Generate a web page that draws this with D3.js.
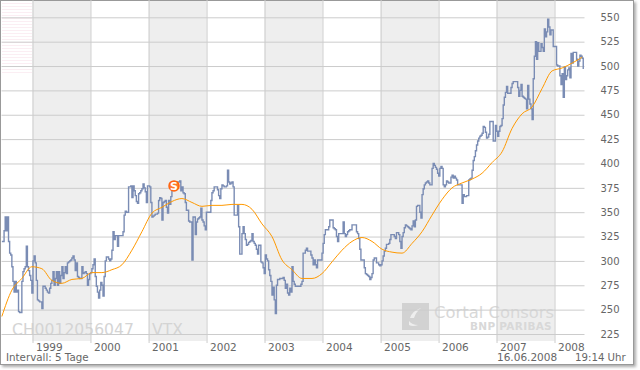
<!DOCTYPE html>
<html>
<head>
<meta charset="utf-8">
<script src="https://cdn.jsdelivr.net/npm/d3@7"></script>
<style>
html, body { margin: 0; padding: 0; background: #fff; overflow: hidden; }
text { font-family: "DejaVu Sans", sans-serif; }
</style>
</head>
<body>
<svg id="chart" width="640" height="370"></svg>
<script>
// weekly closes, first one in the week of 22.06.1998
var firstWeek = new Date(1998, 5, 22);
var price = [
  320,320,331,345,331,345,320,308,306,
  294,279,268,279,268,270,248,247,247,
  279,289,292,294,315,294,290,285,280,
  267,300,305,298,280,260,259,258,258,
  251,274,274,272,270,268,267,272,277,
  280,289,275,282,289,275,289,277,285,
  294,282,288,294,287,298,299,300,301,
  303,305,301,290,298,284,283,282,282,
  294,287,288,289,287,275,281,287,288,
  292,296,302,284,274,268,262,270,278,
  275,264,284,300,304,304,302,300,302,
  311,330,322,326,326,315,326,326,326,
  326,330,347,351,350,350,376,376,377,
  365,377,372,367,361,359,369,370,372,
  374,379,375,371,360,377,377,376,360,
  345,346,347,348,348,349,362,365,364,
  342,360,361,362,355,349,362,358,366,
  374,377,378,380,381,381,381,382,372,
  376,370,369,360,352,352,341,340,340,
  301,345,345,327,340,343,344,345,354,
  342,340,336,332,350,350,350,350,362,
  370,372,376,376,376,373,367,364,374,
  378,377,376,376,377,393,381,379,380,
  381,376,347,347,347,357,335,307,307,
  328,335,328,322,316,317,319,320,321,
  328,320,318,316,312,307,316,316,299,
  298,293,287,306,302,300,291,285,279,
  265,273,260,246,275,281,281,282,282,
  282,283,280,272,276,267,265,272,268,
  294,279,276,274,274,274,274,274,276,
  279,308,308,311,313,310,310,310,306,
  303,296,301,296,293,301,301,301,301,
  308,318,327,332,332,332,335,342,342,
  342,334,333,332,325,320,328,328,328,
  328,340,328,325,327,330,331,332,332,
  337,337,337,337,330,328,323,312,301,
  301,301,293,287,286,285,284,281,283,
  287,301,303,303,298,298,296,295,296,
  300,305,310,313,317,317,318,322,327,
  327,327,325,323,329,329,327,320,313,
  325,329,334,337,336,335,334,333,332,
  336,341,335,342,356,357,357,350,344,
  368,374,378,380,381,382,380,378,378,
  395,400,398,396,394,390,387,395,397,
  395,378,376,378,382,381,380,380,386,
  388,385,387,385,383,378,378,378,378,
  359,368,366,366,367,367,383,384,385,
  393,403,407,413,419,423,426,428,429,
  431,438,437,432,426,427,430,443,443,
  443,423,423,439,433,428,433,438,439,
  446,460,468,473,479,472,472,472,478,
  482,484,484,484,484,478,469,475,481,
  469,468,467,466,456,480,466,461,456,
  445,487,510,525,507,524,515,515,523,
  519,515,538,530,535,548,540,532,537,
  537,520,520,520,501,500,500,490,481,
  492,468,499,486,490,496,498,488,513,
  503,514,514,514,507,500,505,511,510,
  508,497
];

// moving average, read every ninth week
var avgStep = 9;
var average = [
  243,270,282,294,292,280,277,281,282,288,
  288,291,296,311,330,349,355,361,364,360,
  356,357,357,358,358,353,338,325,301,291,
  282,282,287,299,311,320,324,320,312,309,
  308,318,330,347,363,375,380,384,390,401,
  412,436,451,458,477,495,498,503,509
];

var yTicks = [225,250,275,300,325,350,375,400,425,450,475,500,525,550];
var yearTicks = [1999,2000,2001,2002,2003,2004,2005,2006,2007,2008];
var shadedYears = [1999,2001,2003,2005,2007];
var signalDate = new Date(2001, 5, 10);
var signalValue = 377;

var weekDate = i => d3.timeWeek.offset(firstWeek, i);

var x = d3.scaleTime()
    .domain([new Date(1999, 0, 1), new Date(2008, 0, 1)])
    .range([32.5, 554.5]);

var y = d3.scaleLinear()
    .domain([225, 550])
    .range([334, 17.3]);

var svg = d3.select("#chart");

var defs = svg.append("defs");
var stripes = defs.append("pattern")
    .attr("id", "stripes")
    .attr("width", 4).attr("height", 3)
    .attr("patternUnits", "userSpaceOnUse");
stripes.append("rect").attr("width", 4).attr("height", 1).attr("fill", "#fbeef3");
defs.append("filter").attr("id", "shadow")
    .attr("x", "-2%").attr("y", "-2%").attr("width", "104%").attr("height", "104%")
    .append("feDropShadow")
    .attr("dx", 2).attr("dy", 2).attr("stdDeviation", 1.5)
    .attr("flood-color", "#888").attr("flood-opacity", 0.7);

// frame
svg.append("rect")
    .attr("x", 0.5).attr("y", 0.5)
    .attr("width", 633).attr("height", 364)
    .attr("fill", "#fff")
    .attr("stroke", "#999")
    .attr("filter", "url(#shadow)");

svg.append("rect")
    .attr("x", 2).attr("y", 2)
    .attr("width", 30).attr("height", 71)
    .attr("fill", "url(#stripes)");

// year bands
svg.selectAll("rect.band")
    .data(shadedYears)
    .join("rect")
    .attr("class", "band")
    .attr("x", d => x(new Date(d, 0, 1)))
    .attr("y", 1)
    .attr("width", d => x(new Date(d + 1, 0, 1)) - x(new Date(d, 0, 1)))
    .attr("height", 340)
    .attr("fill", "#eeeeee");

// watermark
var logo = svg.append("g");
logo.append("rect")
    .attr("x", 402).attr("y", 303)
    .attr("width", 27).attr("height", 27)
    .attr("fill", "#d2d2d2");
logo.append("path")
    .attr("d", "M410 318 Q412 311 421 308 Q416 312 414 318 Z M409 321 Q412 325 418 325 Q413 327 409 325 Z")
    .attr("fill", "#eee");
logo.append("text")
    .attr("x", 434).attr("y", 318)
    .attr("font-size", 16.4)
    .attr("fill", "#d8d8d8")
    .text("Cortal Consors");
logo.append("text")
    .attr("x", 470).attr("y", 330)
    .attr("font-size", 10.5)
    .attr("font-weight", "bold")
    .attr("letter-spacing", 0.3)
    .attr("fill", "#d8d8d8")
    .text("BNP PARIBAS");

svg.append("text")
    .attr("x", 12).attr("y", 335)
    .attr("font-size", 15.6)
    .attr("fill", "#d4d4d4")
    .text("CH0012056047");
svg.append("text")
    .attr("x", 152).attr("y", 335)
    .attr("font-size", 15.6)
    .attr("fill", "#d4d4d4")
    .text("VTX");

// axes double as the grid
var yAxis = svg.append("g")
    .attr("transform", "translate(584.5,0)")
    .call(d3.axisRight(y)
        .tickValues(yTicks)
        .tickSize(-583)
        .tickPadding(16));

var xAxis = svg.append("g")
    .attr("transform", "translate(0,343)")
    .call(d3.axisBottom(x)
        .tickValues(yearTicks.map(d => new Date(d, 0, 1)))
        .tickFormat(d3.timeFormat("%Y"))
        .tickSize(-343));

[yAxis, xAxis].forEach(function(a) {
    a.select(".domain").remove();
    a.selectAll(".tick line").attr("stroke", "#cccccc");
    a.selectAll(".tick text").attr("fill", "#666");
});
yAxis.selectAll(".tick text").attr("font-size", 10).attr("text-anchor", "start");
xAxis.selectAll(".tick text")
    .attr("font-size", 10.5)
    .attr("text-anchor", "start")
    .attr("x", 3)
    .attr("y", 0)
    .attr("dy", 8);

// price and average
var priceLine = d3.line()
    .x((d, i) => x(weekDate(i)))
    .y(d => y(d))
    .curve(d3.curveStepAfter);

svg.append("path")
    .attr("d", priceLine(price))
    .attr("fill", "none")
    .attr("stroke", "#7a8cb4")
    .attr("stroke-width", 1.4);

var averageLine = d3.line()
    .x((d, i) => x(weekDate(i * avgStep)))
    .y(d => y(d))
    .curve(d3.curveMonotoneX);

svg.append("path")
    .attr("d", averageLine(average))
    .attr("fill", "none")
    .attr("stroke", "#ff9900")
    .attr("stroke-width", 1);

// signal marker
var signal = svg.append("g")
    .attr("transform", `translate(${x(signalDate)},${y(signalValue)})`);
signal.append("circle")
    .attr("r", 5)
    .attr("fill", "#ff7a2a")
    .attr("stroke", "#ff6410")
    .attr("stroke-width", 1.5);
signal.append("text")
    .attr("text-anchor", "middle")
    .attr("y", 4)
    .attr("font-size", 11)
    .attr("font-weight", "bold")
    .attr("fill", "#fff")
    .text("S");

// footer
svg.append("text")
    .attr("x", 6).attr("y", 361)
    .attr("font-size", 10.3)
    .attr("fill", "#666")
    .text("Intervall: 5 Tage");
svg.append("text")
    .attr("x", 497).attr("y", 361)
    .attr("font-size", 10.5)
    .attr("fill", "#666")
    .text("16.06.2008");
svg.append("text")
    .attr("x", 575).attr("y", 361)
    .attr("font-size", 10.2)
    .attr("fill", "#666")
    .text("19:14 Uhr");
</script>
</body>
</html>
